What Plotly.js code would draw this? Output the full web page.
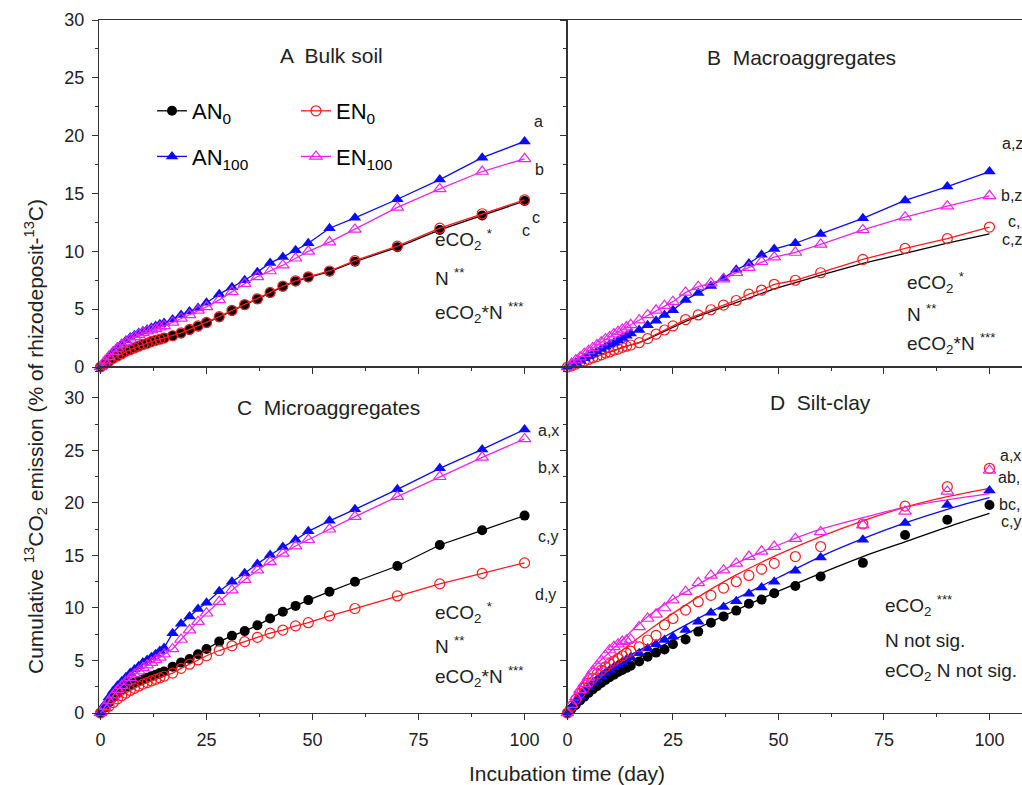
<!DOCTYPE html>
<html><head><meta charset="utf-8">
<script src="https://cdn.plot.ly/plotly-3.0.1.min.js"></script>
<style>html,body{margin:0;padding:0;background:#fff}#chart{width:1022px;height:785px}</style>
</head><body><div id="chart"></div>
<script>
// ---- data ----
const days = [0,1,2,3,4,5,6,7,8,9,10,11,12,13,14,15,17,19,21,23,25,28,31,34,37,40,43,46,49,54,60,70,80,90,100];

const A_AN0   = [0,0.25,0.5,0.75,0.95,1.15,1.35,1.5,1.65,1.8,1.95,2.05,2.2,2.3,2.4,2.5,2.7,2.9,3.2,3.5,3.8,4.3,4.85,5.35,5.85,6.4,6.95,7.4,7.75,8.25,9.1,10.35,11.85,13.1,14.35];
const A_EN0   = [0,0.25,0.5,0.75,0.95,1.15,1.35,1.5,1.65,1.8,1.95,2.05,2.2,2.3,2.4,2.5,2.7,2.95,3.25,3.55,3.85,4.35,4.9,5.4,5.9,6.45,7.0,7.45,7.8,8.3,9.2,10.45,12.0,13.25,14.45];
const A_AN100 = [0,0.5,0.95,1.35,1.7,2.0,2.3,2.55,2.75,2.95,3.1,3.25,3.4,3.55,3.7,3.8,4.1,4.5,4.8,5.1,5.55,6.3,6.9,7.5,8.2,9.0,9.5,10.1,10.7,12.0,12.9,14.5,16.2,18.1,19.5];
const A_EN100 = [0,0.5,0.9,1.3,1.6,1.9,2.15,2.4,2.6,2.8,2.95,3.1,3.2,3.3,3.45,3.55,3.85,4.2,4.5,4.9,5.2,5.8,6.5,7.2,7.8,8.3,8.8,9.4,10.0,10.8,11.9,13.8,15.4,16.9,18.0];

const B_AN0   = [0,0.1,0.25,0.4,0.5,0.65,0.8,0.9,1.05,1.2,1.3,1.45,1.55,1.7,1.8,1.9,2.1,2.4,2.75,3.1,3.45,3.95,4.4,4.8,5.2,5.6,6.0,6.4,6.75,7.3,7.95,8.95,9.85,10.7,11.5];
const B_EN0   = [0,0.1,0.25,0.4,0.5,0.65,0.8,0.9,1.05,1.2,1.3,1.45,1.55,1.7,1.8,1.9,2.1,2.45,2.85,3.2,3.55,4.1,4.5,4.95,5.35,5.75,6.3,6.65,7.15,7.5,8.15,9.3,10.25,11.1,12.1];
const B_AN100 = [0,0.2,0.35,0.55,0.75,0.95,1.15,1.35,1.55,1.75,1.95,2.1,2.3,2.5,2.7,2.9,3.2,3.6,4.0,4.5,4.9,5.8,6.4,7.0,7.7,8.4,8.95,9.7,10.2,10.7,11.5,12.85,14.4,15.6,16.9];
const B_EN100 = [0,0.3,0.6,0.85,1.15,1.4,1.65,1.9,2.15,2.4,2.6,2.85,3.05,3.25,3.45,3.65,4.05,4.5,4.9,5.3,5.65,6.45,6.95,7.25,7.6,8.15,8.6,9.1,9.5,9.9,10.6,11.85,12.95,13.9,14.8];

const C_AN0   = [0,0.5,1.0,1.5,1.9,2.25,2.5,2.7,2.9,3.05,3.2,3.35,3.5,3.65,3.8,3.95,4.4,4.8,5.15,5.6,6.1,6.8,7.35,7.8,8.35,9.0,9.65,10.2,10.75,11.55,12.5,14.0,16.0,17.4,18.8];
const C_EN0   = [0,0.3,0.65,1.0,1.35,1.65,1.9,2.15,2.35,2.55,2.75,2.9,3.05,3.2,3.35,3.5,3.8,4.25,4.65,5.05,5.45,5.95,6.4,6.8,7.2,7.6,7.9,8.3,8.6,9.25,9.95,11.15,12.3,13.3,14.3];
const C_AN100 = [0,0.8,1.5,2.1,2.6,3.0,3.4,3.8,4.15,4.45,4.8,5.05,5.3,5.6,5.9,6.2,7.6,8.5,9.2,9.9,10.5,11.6,12.5,13.3,14.2,15.05,15.8,16.5,17.3,18.3,19.4,21.3,23.3,25.1,27.0];
const C_EN100 = [0,0.6,1.15,1.7,2.2,2.6,3.0,3.35,3.7,4.0,4.3,4.55,4.8,5.05,5.3,5.6,6.1,7.0,7.9,8.7,9.5,10.6,11.7,12.7,13.6,14.4,15.2,15.9,16.5,17.5,18.7,20.6,22.5,24.35,26.1];

const D_AN0   = [0,0.4,0.8,1.2,1.55,1.9,2.25,2.55,2.85,3.15,3.4,3.65,3.9,4.1,4.3,4.5,4.9,5.35,5.75,6.05,6.55,7.0,7.75,8.6,9.2,9.75,10.4,10.8,11.4,12.1,13.0,14.3,16.95,18.4,19.8];
const D_AN100 = [0,0.55,1.1,1.6,2.05,2.45,2.85,3.2,3.5,3.8,4.1,4.35,4.6,4.85,5.1,5.3,5.7,6.15,6.55,6.95,7.25,7.9,8.7,9.55,10.1,10.65,11.35,11.95,12.5,13.55,14.8,16.5,18.1,19.8,21.2];
const D_EN0   = [0,0.65,1.3,1.9,2.4,2.85,3.3,3.7,4.05,4.4,4.7,4.95,5.2,5.45,5.7,5.9,6.3,6.95,7.4,8.4,9.0,9.8,10.6,11.2,11.9,12.5,13.1,13.7,14.25,14.9,15.85,18.0,19.7,21.55,23.3];
const D_EN100 = [0,0.8,1.5,2.2,2.8,3.4,4.0,4.5,5.0,5.5,6.0,6.3,6.55,6.8,6.9,7.0,8.2,9.0,9.4,10.0,10.75,11.55,12.4,13.1,13.6,14.25,14.9,15.4,15.85,16.6,17.25,17.9,19.2,21.1,23.1];

// fitted curves drawn in panel D
const fitDays      = [0,2,5,10,20,30,40,50,60,70,80,90,100];
const D_fit_AN0    = [0,1.1,2.3,3.7,5.9,7.9,9.8,11.6,13.3,14.9,16.3,17.7,19.0];
const D_fit_AN100  = [0,1.3,2.8,4.4,6.6,8.8,10.9,12.9,14.9,16.6,18.1,19.4,20.5];
const D_fit_EN0    = [0,1.5,3.15,5.0,8.1,10.8,13.15,15.1,16.8,18.3,19.6,20.6,21.4];
const D_fit_EN100  = [0,1.8,3.8,5.8,9.5,12.0,14.25,16.0,17.5,18.6,19.6,20.3,20.9];

const xTicks = [0,25,50,75,100];
const yTicks = [0,5,10,15,20,25,30];
const panelTitles = ["A  Bulk soil","B  Macroaggregates","C  Microaggregates","D  Silt-clay"];
const seriesNames = ["AN<sub>0</sub>","EN<sub>0</sub>","AN<sub>100</sub>","EN<sub>100</sub>"];

// ---- styles ----
const COL = {AN0:'#000000', EN0:'#ff1a1a', AN100:'#0a0aff', EN100:'#ee22ee'};
const MK = {
  AN0:  {symbol:'circle', size:10, color:COL.AN0, line:{width:0}},
  EN0:  {symbol:'circle-open', size:10, color:COL.EN0, line:{width:1.2}},
  AN100:{symbol:'triangle-up', size:11, color:COL.AN100, line:{width:0}},
  EN100:{symbol:'triangle-up-open', size:11, color:COL.EN100, line:{width:1.2}}
};
const W = 1022, H = 785;
const px = x => x / W, py = y => 1 - y / H;

const traces = [];
function lm(ax, ay, x, y, key, name, opts) {
  traces.push(Object.assign({
    type:'scatter', mode:'lines+markers', x:x, y:y, xaxis:ax, yaxis:ay,
    name:name, line:{color:COL[key], width:1.3}, marker:MK[key],
    showlegend:false, cliponaxis:false
  }, opts||{}));
}
// Panel A (with legends)
lm('x','y',days,A_AN0,'AN0',seriesNames[0],{showlegend:true,legend:'legend'});
lm('x','y',days,A_AN100,'AN100',seriesNames[2],{showlegend:true,legend:'legend'});
lm('x','y',days,A_EN0,'EN0',seriesNames[1],{showlegend:true,legend:'legend2'});
lm('x','y',days,A_EN100,'EN100',seriesNames[3],{showlegend:true,legend:'legend2'});
// Panel B
lm('x2','y2',days,B_AN0,'AN0',seriesNames[0],{mode:'lines'});
lm('x2','y2',days,B_EN0,'EN0',seriesNames[1]);
lm('x2','y2',days,B_AN100,'AN100',seriesNames[2]);
lm('x2','y2',days,B_EN100,'EN100',seriesNames[3]);
// Panel C
lm('x3','y3',days,C_AN0,'AN0',seriesNames[0]);
lm('x3','y3',days,C_EN0,'EN0',seriesNames[1]);
lm('x3','y3',days,C_AN100,'AN100',seriesNames[2]);
lm('x3','y3',days,C_EN100,'EN100',seriesNames[3]);
// Panel D: fitted lines + measured points
lm('x4','y4',fitDays,D_fit_AN0,'AN0',seriesNames[0],{mode:'lines',line:{color:COL.AN0,width:1.3,shape:'spline'}});
lm('x4','y4',fitDays,D_fit_AN100,'AN100',seriesNames[2],{mode:'lines',line:{color:COL.AN100,width:1.3,shape:'spline'}});
lm('x4','y4',fitDays,D_fit_EN0,'EN0',seriesNames[1],{mode:'lines',line:{color:COL.EN0,width:1.3,shape:'spline'}});
lm('x4','y4',fitDays,D_fit_EN100,'EN100',seriesNames[3],{mode:'lines',line:{color:COL.EN100,width:1.3,shape:'spline'}});
lm('x4','y4',days,D_AN0,'AN0',seriesNames[0],{mode:'markers'});
lm('x4','y4',days,D_AN100,'AN100',seriesNames[2],{mode:'markers'});
lm('x4','y4',days,D_EN0,'EN0',seriesNames[1],{mode:'markers'});
lm('x4','y4',days,D_EN100,'EN100',seriesNames[3],{mode:'markers'});

const FONT = 'Arial, "Liberation Sans", sans-serif';
const TXT = '#222';
function xa(domain, range, showLabels, anchor) {
  return {domain:domain, range:range, anchor:anchor, tickvals:xTicks, ticks:'outside', ticklen:6,
    tickcolor:'#333', showline:true, linecolor:'#333', linewidth:1.2, mirror:true, showgrid:false,
    zeroline:false, showticklabels:showLabels, tickfont:{family:FONT,size:18,color:TXT}, ticklabelstandoff:4,
    minor:{tickvals:[12.5,37.5,62.5,87.5], ticks:'outside', ticklen:3, tickcolor:'#333'}, automargin:false};
}
function ya(domain, range, showLabels, anchor, mirror) {
  return {domain:domain, range:range, anchor:anchor, tickvals:yTicks, ticks:'outside', ticklen:6,
    tickcolor:'#333', showline:true, linecolor:'#333', linewidth:1.2, mirror:mirror, showgrid:false,
    zeroline:false, showticklabels:showLabels, tickfont:{family:FONT,size:18,color:TXT}, ticklabelstandoff:4,
    minor:{tickvals:[2.5,7.5,12.5,17.5,22.5,27.5,32.5], ticks:'outside', ticklen:3, tickcolor:'#333'}, automargin:false};
}
const xL = [px(99), px(567)], xR = [px(567), 1];
const yT = [py(367), py(20)], yB = [py(713), py(367)];
const rL = [-0.35, 110], rR = [-0.1, 107.7];

function ann(x, y, text, size, anchor, extra) {
  return Object.assign({xref:'paper', yref:'paper', x:px(x), y:py(y), text:text, showarrow:false,
    xanchor:anchor||'center', yanchor:'middle', font:{family:FONT, size:size, color:TXT}}, extra||{});
}
const S = 19, L = 16;
const annotations = [
  ann(331, 56, panelTitles[0], 21),
  ann(801, 58, panelTitles[1], 21),
  ann(328, 407, panelTitles[2], 21),
  ann(820, 402, panelTitles[3], 21),
  // stats
  ann(433, 240, 'eCO<sub>2</sub> <sup>*</sup>', S, 'left'),
  ann(433, 277, 'N <sup>**</sup>', S, 'left'),
  ann(433, 312, 'eCO<sub>2</sub>*N <sup>***</sup>', S, 'left'),
  ann(905, 283, 'eCO<sub>2</sub> <sup>*</sup>', S, 'left'),
  ann(905, 313, 'N <sup>**</sup>', S, 'left'),
  ann(905, 343, 'eCO<sub>2</sub>*N <sup>***</sup>', S, 'left'),
  ann(433, 612, 'eCO<sub>2</sub> <sup>*</sup>', S, 'left'),
  ann(433, 645, 'N <sup>**</sup>', S, 'left'),
  ann(433, 676, 'eCO<sub>2</sub>*N <sup>***</sup>', S, 'left'),
  ann(883, 605, 'eCO<sub>2</sub> <sup>***</sup>', S, 'left'),
  ann(883, 640, 'N not sig.', S, 'left'),
  ann(883, 672, 'eCO<sub>2</sub> N not sig.', S, 'left'),
  // letters
  ann(538, 122, 'a', L),
  ann(539, 170, 'b', L),
  ann(526, 231, 'c', L),
  ann(536, 218, 'c', L),
  ann(1000, 144, 'a,z', L, 'left'),
  ann(999, 196, 'b,z', L, 'left'),
  ann(1006, 222, 'c,', L, 'left'),
  ann(1000, 240, 'c,z', L, 'left'),
  ann(536, 430, 'a,x', L, 'left'),
  ann(536, 467, 'b,x', L, 'left'),
  ann(536, 536, 'c,y', L, 'left'),
  ann(533, 594, 'd,y', L, 'left'),
  ann(998, 455, 'a,x', L, 'left'),
  ann(996, 477, 'ab,', L, 'left'),
  ann(997, 504, 'bc,', L, 'left'),
  ann(999, 521, 'c,y', L, 'left'),
  // axis titles
  ann(35, 437, 'Cumulative <sup>13</sup>CO<sub>2</sub> emission (% of rhizodeposit-<sup>13</sup>C)', 21, 'center', {textangle:-90}),
  ann(567, 773, 'Incubation time (day)', 21, 'center')
];

const legendBase = {orientation:'v', bgcolor:'rgba(0,0,0,0)', borderwidth:0,
  font:{family:FONT, size:22, color:'#000'}, tracegroupgap:14, itemwidth:30,
  xanchor:'left', yanchor:'top', traceorder:'grouped'};
const layout = {
  width:W, height:H, margin:{l:0,r:0,t:0,b:0}, paper_bgcolor:'#fff', plot_bgcolor:'rgba(0,0,0,0)',
  showlegend:true,
  legend: Object.assign({}, legendBase, {x:px(152), y:py(90)}),
  legend2: Object.assign({}, legendBase, {x:px(296), y:py(90)}),
  xaxis: xa(xL, rL, false, 'y'),
  yaxis: ya(yT, [0,30], true, 'x', true),
  xaxis2: xa(xR, rR, false, 'y2'),
  yaxis2: ya(yT, [0,30], false, 'x2', false),
  xaxis3: xa(xL, rL, true, 'y3'),
  yaxis3: ya(yB, [0,32.95], true, 'x3', true),
  xaxis4: xa(xR, rR, true, 'y4'),
  yaxis4: ya(yB, [0,32.95], false, 'x4', false),
  annotations: annotations
};
// group legend items separately so tracegroupgap spaces rows
traces.forEach((t,i)=>{ if(t.showlegend) t.legendgroup='g'+i; });
Plotly.newPlot('chart', traces, layout, {staticPlot:true, displayModeBar:false});
</script></body></html>
